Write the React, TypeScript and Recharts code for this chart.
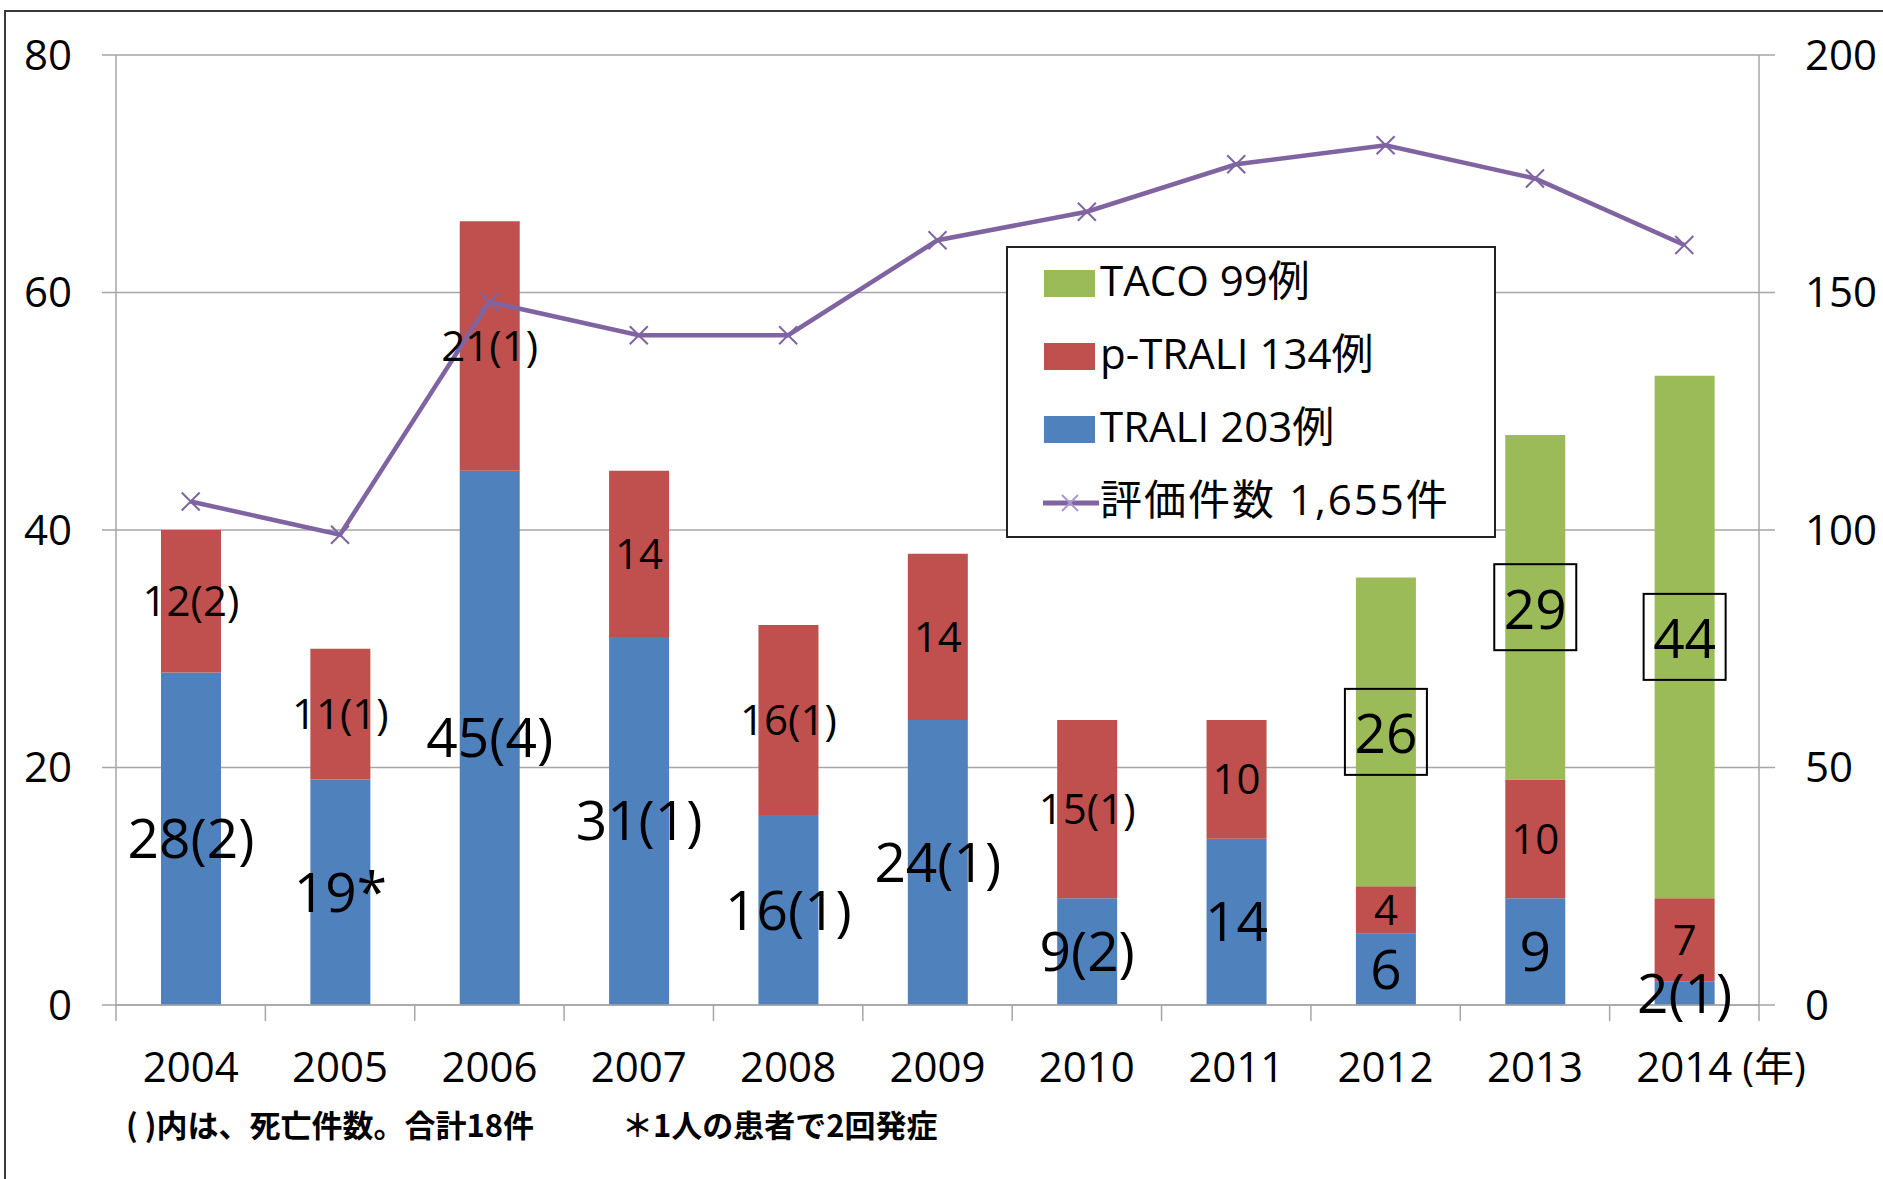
import React from "react";
import { Bar, CartesianGrid, ComposedChart, LabelList, Legend, Line, XAxis, YAxis } from "recharts";

const YEARS = ["2004", "2005", "2006", "2007", "2008", "2009", "2010", "2011", "2012", "2013", "2014"];
const TRALI = [28, 19, 45, 31, 16, 24, 9, 14, 6, 9, 2];
const P_TRALI = [12, 11, 21, 14, 16, 14, 15, 10, 4, 10, 7];
const TACO = [0, 0, 0, 0, 0, 0, 0, 0, 26, 29, 44];
const EVALUATIONS = [106, 99, 148, 141, 141, 161, 167, 177, 181, 174, 160];

const TRALI_LABELS = ["28(2)", "19*", "45(4)", "31(1)", "16(1)", "24(1)", "9(2)", "14", "6", "9", "2(1)"];
const P_TRALI_LABELS = ["12(2)", "11(1)", "21(1)", "14", "16(1)", "14", "15(1)", "10", "4", "10", "7"];
const TACO_LABELS = ["", "", "", "", "", "", "", "", "26", "29", "44"];

const LEFT_TICKS = [0, 20, 40, 60, 80];
const RIGHT_TICKS = [0, 50, 100, 150, 200];

const LEGEND_LABELS = ["TACO 99例", "p-TRALI 134例", "TRALI 203例", "評価件数 1,655件"];
const NOTE_DEATHS = "( )内は、死亡件数。合計18件";
const NOTE_STAR = "＊1人の患者で2回発症";

const BLUE = "#4F81BD";
const RED = "#C0504D";
const GREEN = "#9BBB59";
const PURPLE = "#8064A2";
const GRID = "#a6a6a6";
const FONT = "'Open Sans', 'Noto Sans CJK JP', sans-serif";

const W = 1883;
const H = 1179;
const PLOT_LEFT = 116;
const PLOT_RIGHT = 1759;
const BAND = (PLOT_RIGHT - PLOT_LEFT) / YEARS.length;

const data = YEARS.map((year, i) => ({
  year,
  trali: TRALI[i],
  pTrali: P_TRALI[i],
  taco: TACO[i],
  evals: EVALUATIONS[i],
  traliLabel: TRALI_LABELS[i],
  pTraliLabel: P_TRALI_LABELS[i],
  tacoLabel: TACO_LABELS[i],
}));

function XTick(props: any) {
  const { x, y, payload, index } = props;
  const half = BAND / 2;
  const last = index === YEARS.length - 1;
  return (
    <g>
      <line x1={x - half} x2={x - half} y1={y} y2={y + 16} stroke={GRID} strokeWidth={1.5} />
      {last && <line x1={x + half} x2={x + half} y1={y} y2={y + 16} stroke={GRID} strokeWidth={1.5} />}
      <text x={x} y={y + 60} textAnchor="middle" dominantBaseline="central" fontSize={42} fill="#000">
        {payload.value}
      </text>
      {last && (
        <text x={x + 58} y={y + 60} textAnchor="start" dominantBaseline="central" fontSize={40} fill="#000">
          (年)
        </text>
      )}
    </g>
  );
}

function CrossDot(props: any) {
  const { cx, cy, index } = props;
  if (cx == null || cy == null) return <g key={`d${index}`} />;
  const s = 9;
  return (
    <g key={`d${index}`}>
      <line x1={cx - s} y1={cy - s} x2={cx + s} y2={cy + s} stroke={PURPLE} strokeWidth={2} />
      <line x1={cx - s} y1={cy + s} x2={cx + s} y2={cy - s} stroke={PURPLE} strokeWidth={2} />
    </g>
  );
}

function BoxedLabel(props: any) {
  const { x, y, width, height, value } = props;
  if (!value) return null;
  const cx = x + width / 2;
  const cy = y + height / 2;
  return (
    <g>
      <rect x={cx - 41} y={cy - 43} width={82} height={86} fill="none" stroke="#000" strokeWidth={2} />
      <text x={cx} y={cy} textAnchor="middle" dominantBaseline="central" fontSize={55} fill="#000">
        {value}
      </text>
    </g>
  );
}

function LegendBox() {
  const swatches = [GREEN, RED, BLUE];
  const rows = [36, 109, 182, 255];
  return (
    <div
      style={{
        position: "relative",
        width: 490,
        height: 292,
        boxSizing: "border-box",
        border: "2px solid #222",
        background: "#fff",
        fontFamily: FONT,
        fontSize: 42,
        color: "#000",
      }}
    >
      {LEGEND_LABELS.map((label, i) => (
        <div key={label}>
          {i < 3 ? (
            <div
              style={{
                position: "absolute",
                left: 36,
                top: rows[i] - 14,
                width: 51,
                height: 27,
                background: swatches[i],
              }}
            />
          ) : (
            <svg style={{ position: "absolute", left: 33, top: rows[i] - 12 }} width={60} height={24}>
              <line x1={2} y1={12} x2={58} y2={12} stroke={PURPLE} strokeWidth={5} />
              <line x1={21} y1={4} x2={37} y2={20} stroke="#a898d0" strokeWidth={2} />
              <line x1={21} y1={20} x2={37} y2={4} stroke="#a898d0" strokeWidth={2} />
            </svg>
          )}
          <div
            style={{
              position: "absolute",
              left: 92,
              top: rows[i] - 34,
              height: 60,
              lineHeight: "60px",
              whiteSpace: "nowrap",
              letterSpacing: i === 3 ? 2 : 0,
            }}
          >
            {label}
          </div>
        </div>
      ))}
    </div>
  );
}

const noteStyle: React.CSSProperties = {
  position: "absolute",
  top: 1106,
  fontFamily: "'Noto Sans CJK JP', sans-serif",
  fontWeight: 700,
  fontSize: 31,
  lineHeight: "36px",
  whiteSpace: "pre",
};

export default function App() {
  return (
    <div
      style={{
        position: "absolute",
        left: 0,
        top: 0,
        width: W,
        height: H,
        background: "#fff",
        fontFamily: FONT,
        overflow: "hidden",
      }}
    >
      <div
        style={{
          position: "absolute",
          left: 4,
          top: 10,
          width: W,
          height: H,
          borderLeft: "2px solid #3a3a3a",
          borderTop: "2px solid #3a3a3a",
        }}
      />
      <ComposedChart
        width={W}
        height={H}
        data={data}
        margin={{ top: 55, right: 0, bottom: 84, left: 0 }}
        style={{ position: "absolute", left: 0, top: 0 }}
      >
        <CartesianGrid yAxisId="left" vertical={false} stroke={GRID} strokeWidth={1.5} />
        <XAxis
          dataKey="year"
          height={90}
          interval={0}
          tickSize={0}
          tickMargin={0}
          tickLine={false}
          axisLine={{ stroke: GRID, strokeWidth: 1.5 }}
          tick={<XTick />}
        />
        <YAxis
          yAxisId="left"
          width={116}
          domain={[0, 80]}
          ticks={LEFT_TICKS}
          interval={0}
          tickSize={14}
          tickMargin={30}
          axisLine={{ stroke: GRID, strokeWidth: 1.5 }}
          tickLine={{ stroke: GRID, strokeWidth: 1.5 }}
          tick={{ fill: "#000", fontSize: 42 }}
        />
        <YAxis
          yAxisId="right"
          orientation="right"
          width={124}
          domain={[0, 200]}
          ticks={RIGHT_TICKS}
          interval={0}
          tickSize={16}
          tickMargin={30}
          axisLine={{ stroke: GRID, strokeWidth: 1.5 }}
          tickLine={{ stroke: GRID, strokeWidth: 1.5 }}
          tick={{ fill: "#000", fontSize: 42 }}
        />
        <Bar yAxisId="left" dataKey="trali" stackId="a" fill={BLUE} barSize={60} isAnimationActive={false}>
          <LabelList dataKey="traliLabel" position="center" fill="#000" fontSize={55} />
        </Bar>
        <Bar yAxisId="left" dataKey="pTrali" stackId="a" fill={RED} barSize={60} isAnimationActive={false}>
          <LabelList dataKey="pTraliLabel" position="center" fill="#000" fontSize={42} />
        </Bar>
        <Bar yAxisId="left" dataKey="taco" stackId="a" fill={GREEN} barSize={60} isAnimationActive={false}>
          <LabelList dataKey="tacoLabel" position="center" content={<BoxedLabel />} />
        </Bar>
        <Line
          yAxisId="right"
          dataKey="evals"
          stroke={PURPLE}
          strokeWidth={4.5}
          dot={(p: any) => <CrossDot {...p} key={`dot${p.index}`} />}
          activeDot={false}
          isAnimationActive={false}
        />
        <Legend
          layout="vertical"
          align="center"
          verticalAlign="middle"
          wrapperStyle={{ left: 1006, top: 246, width: 490, height: 292 }}
          content={() => <LegendBox />}
        />
      </ComposedChart>
      <div style={{ ...noteStyle, left: 126 }}>{NOTE_DEATHS}</div>
      <div style={{ ...noteStyle, left: 622 }}>{NOTE_STAR}</div>
    </div>
  );
}
